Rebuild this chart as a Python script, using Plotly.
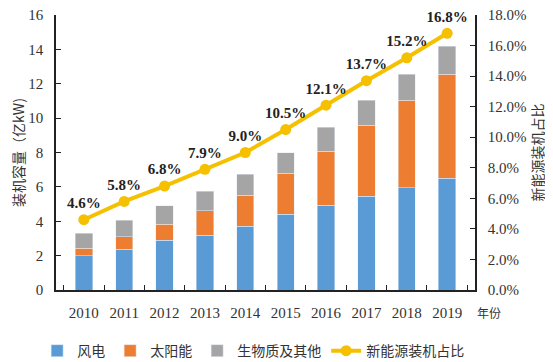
import plotly.graph_objects as go

years = ["2010", "2011", "2012", "2013", "2014", "2015", "2016", "2017", "2018", "2019"]
wind = [1.98, 2.37, 2.90, 3.18, 3.72, 4.40, 4.93, 5.46, 5.96, 6.50]
solar = [0.44, 0.73, 0.93, 1.42, 1.80, 2.40, 3.13, 4.14, 5.07, 6.06]
other = [0.89, 0.97, 1.07, 1.15, 1.21, 1.20, 1.40, 1.43, 1.53, 1.61]
share = [0.046, 0.058, 0.068, 0.079, 0.090, 0.105, 0.121, 0.137, 0.152, 0.168]
share_labels = ["4.6%", "5.8%", "6.8%", "7.9%", "9.0%", "10.5%", "12.1%", "13.7%", "15.2%", "16.8%"]

serif = "Liberation Serif"
cjk = "Noto Sans CJK SC"

fig = go.Figure()
fig.add_trace(go.Bar(x=years, y=wind, name="风电", marker_color="#5B9BD5"))
fig.add_trace(go.Bar(x=years, y=solar, name="太阳能", marker_color="#ED7D31"))
fig.add_trace(go.Bar(x=years, y=other, name="生物质及其他", marker_color="#A5A5A5"))
fig.add_trace(go.Scatter(
    x=years, y=share, name="新能源装机占比", yaxis="y2",
    mode="lines+markers+text", text=share_labels, textposition="top center",
    textfont=dict(family=serif, size=15, color="#222222", weight="bold"),
    line=dict(color="#F5C000", width=4), marker=dict(color="#F5C000", size=11),
    cliponaxis=False,
))

axis_line = dict(showline=True, linecolor="#222222", linewidth=1.5, ticks="inside",
                 tickcolor="#222222", ticklen=5, showgrid=False, zeroline=False,
                 ticklabeloverflow="allow")

fig.update_layout(
    width=545, height=354,
    margin=dict(l=48, r=78, t=7, b=72, autoexpand=False),
    barmode="stack", bargap=0.57,
    plot_bgcolor="white", paper_bgcolor="white",
    font=dict(family=serif, size=14, color="#333333"),
    xaxis=dict(**axis_line, tickson="boundaries", ticklabelstandoff=8,
               tickfont=dict(family=serif, size=15)),
    yaxis=dict(**axis_line, range=[0, 16], dtick=2, ticklabelstandoff=8,
               title=dict(text="装机容量（亿kW)", font=dict(family=cjk, size=14), standoff=10),
               tickfont=dict(family=serif, size=15)),
    yaxis2=dict(**axis_line, overlaying="y", side="right", range=[0, 0.18], dtick=0.02,
                tickformat=".1%", ticklabelstandoff=8,
                title=dict(text="新能源装机占比", font=dict(family=cjk, size=14), standoff=6),
                tickfont=dict(family=serif, size=15)),
    legend=dict(orientation="h", x=-0.045, y=-0.222, xanchor="left", yanchor="middle",
                font=dict(family=cjk, size=14, color="#333333"), itemwidth=30,
                traceorder="normal"),
    annotations=[dict(text="年份", xref="paper", yref="paper", x=1.0, y=-0.08,
                      xanchor="left", yanchor="middle", showarrow=False,
                      font=dict(family=cjk, size=12, color="#333333"))],
)

fig.write_html("out.html")
